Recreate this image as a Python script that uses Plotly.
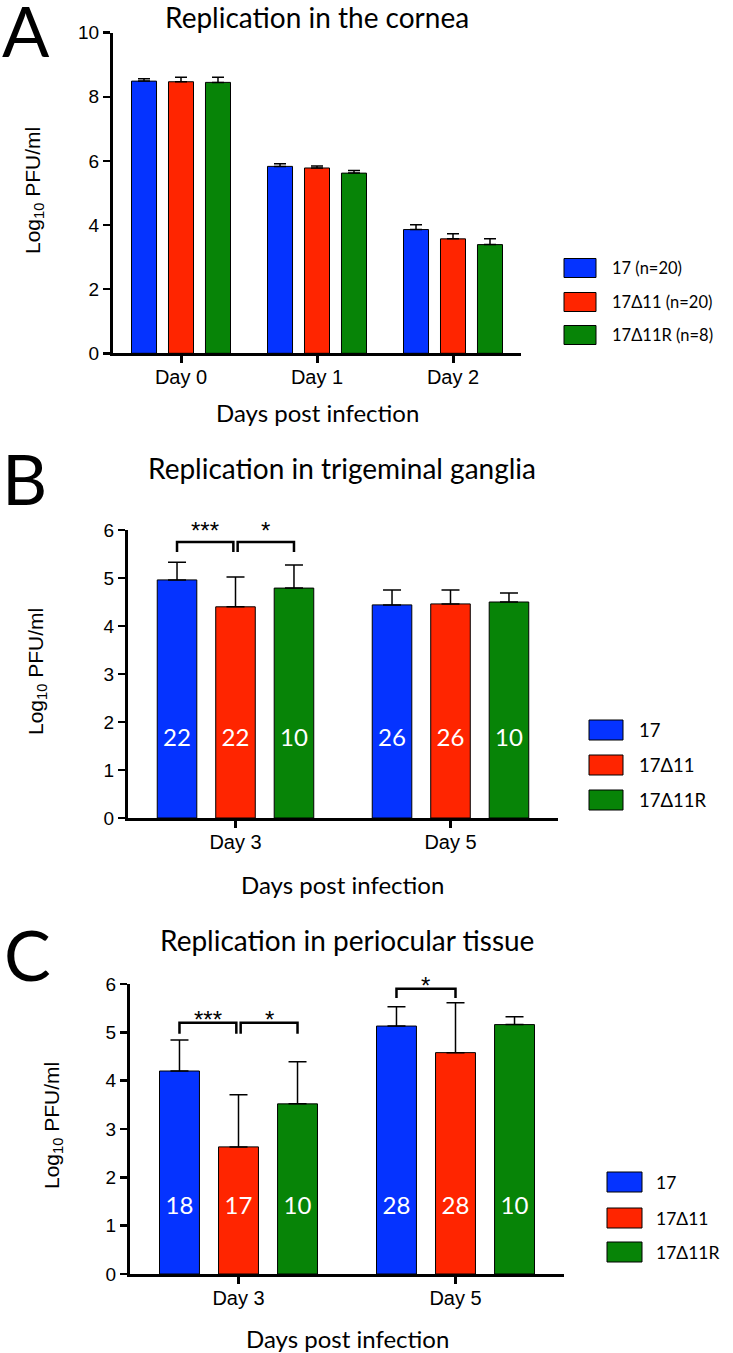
import plotly.graph_objects as go

# ---------------- DATA ----------------
series_names_A = ["17 (n=20)", "17\u039411 (n=20)", "17\u039411R (n=8)"]
series_names_BC = ["17", "17\u039411", "17\u039411R"]

days_A = ["Day 0", "Day 1", "Day 2"]
A_17 = [8.49, 5.83, 3.86]
A_17_err = [0.07, 0.08, 0.15]
A_d11 = [8.47, 5.78, 3.57]
A_d11_err = [0.14, 0.06, 0.16]
A_d11R = [8.45, 5.62, 3.39]
A_d11R_err = [0.16, 0.08, 0.18]

days_B = ["Day 3", "Day 5"]
B_17 = [4.96, 4.44]
B_17_err = [0.37, 0.31]
B_d11 = [4.40, 4.46]
B_d11_err = [0.62, 0.29]
B_d11R = [4.79, 4.50]
B_d11R_err = [0.48, 0.19]
B_n = [[22, 26], [22, 26], [10, 10]]

days_C = ["Day 3", "Day 5"]
C_17 = [4.20, 5.13]
C_17_err = [0.64, 0.40]
C_d11 = [2.63, 4.58]
C_d11_err = [1.08, 1.03]
C_d11R = [3.52, 5.16]
C_d11R_err = [0.87, 0.16]
C_n = [[18, 28], [17, 28], [10, 10]]

# significance comparisons: (day index, series a, series b, label)
B_sig = [(0, 0, 1, "***"), (0, 1, 2, "*")]
C_sig = [(0, 0, 1, "***"), (0, 1, 2, "*"), (1, 0, 1, "*")]

titles = ["Replication in the cornea", "Replication in trigeminal ganglia",
          "Replication in periocular tissue"]
panel_letters = ["A", "B", "C"]
x_title = "Days post infection"
y_title = "Log<sub>10</sub> PFU/ml"

# ---------------- STYLE ----------------
W, H = 733, 1353
colors = ["#0533FF", "#FF2500", "#078407"]
TXT = "Lato"
TICKF = "Liberation Sans"
OFF = 0.272
BW = 0.184


def px(x):
    return x / W


def py(y):
    return 1 - y / H


panels = [
    dict(days=days_A, vals=[A_17, A_d11, A_d11R], errs=[A_17_err, A_d11_err, A_d11R_err],
         counts=None, sig=[], xd=(113, 521), yd=(353.3, 32.7), yr=10, dtick=2, errw=6,
         names=series_names_A, title_xy=(317, 17), letter_xy=(0, 30), xt_xy=(317, 413),
         yt_xy=(34, 191), leg_x=564, leg_ys=[268, 302, 335], leg_w=32, leg_h=19, leg_fs=16.5,
         leg_gap=14, count_y=None, sig_y=[], star_shift=0),
    dict(days=days_B, vals=[B_17, B_d11, B_d11R], errs=[B_17_err, B_d11_err, B_d11R_err],
         counts=B_n, sig=B_sig, xd=(128, 558), yd=(818, 530), yr=6, dtick=1, errw=9,
         names=series_names_BC, title_xy=(342, 468), letter_xy=(0, 478), xt_xy=(342, 884),
         yt_xy=(37, 672), leg_x=589, leg_ys=[730, 765, 800], leg_w=34, leg_h=20, leg_fs=18.5,
         leg_gap=14, count_y=1.62, sig_y=[(5.75, 5.54), (5.75, 5.54)], star_shift=-4),
    dict(days=days_C, vals=[C_17, C_d11, C_d11R], errs=[C_17_err, C_d11_err, C_d11R_err],
         counts=C_n, sig=C_sig, xd=(130, 564), yd=(1274, 984), yr=6, dtick=1, errw=9,
         names=series_names_BC, title_xy=(347, 940), letter_xy=(2, 954), xt_xy=(347, 1338),
         yt_xy=(53, 1126), leg_x=607, leg_ys=[1182, 1218, 1252], leg_w=35, leg_h=20, leg_fs=17.5,
         leg_gap=12, count_y=1.37, sig_y=[(5.2, 4.97), (5.2, 4.97), (5.9, 5.71)], star_shift=-12),
]

fig = go.Figure()
layout = dict(template="none", width=W, height=H,
              margin=dict(l=0, r=0, t=0, b=0, pad=0, autoexpand=False),
              paper_bgcolor="white", plot_bgcolor="white", showlegend=False,
              barmode="overlay")
shapes = []
annotations = []

for k, p in enumerate(panels):
    sfx = "" if k == 0 else str(k + 1)
    xa, ya = "x" + sfx, "y" + sfx
    n = len(p["days"])
    idx = list(range(n))
    for s in range(3):
        xs = [i + (s - 1) * OFF for i in idx]
        fig.add_trace(go.Bar(
            x=xs, y=p["vals"][s], width=BW, xaxis=xa, yaxis=ya,
            marker=dict(color=colors[s], line=dict(color="black", width=1)),
            error_y=dict(type="data", array=p["errs"][s], arrayminus=[0] * n, symmetric=False,
                         color="black", thickness=1.5, width=p["errw"]),
            name=p["names"][s], hoverinfo="skip"))
        if p["counts"]:
            fig.add_trace(go.Scatter(
                x=xs, y=[p["count_y"]] * n, mode="text", text=[str(c) for c in p["counts"][s]],
                textfont=dict(family=TXT, size=24, color="white"), xaxis=xa, yaxis=ya,
                hoverinfo="skip"))
    # significance brackets
    for j, (d, a, b, lab) in enumerate(p["sig"]):
        ytop, yleg = p["sig_y"][j]
        x1 = d + (a - 1) * OFF
        x2 = d + (b - 1) * OFF
        if b == 1 and any(q[0] == d and q[1] == 1 for q in p["sig"]):
            x2 -= 0.01
        if a == 1:
            x1 += 0.01
        shapes.append(dict(type="path", xref=xa, yref=ya,
                           path=f"M {x1},{yleg} L {x1},{ytop} L {x2},{ytop} L {x2},{yleg}",
                           line=dict(color="black", width=2.5)))
        annotations.append(dict(x=(x1 + x2) / 2, y=ytop, xref=xa, yref=ya, text=lab,
                                showarrow=False, yanchor="bottom", yshift=p["star_shift"],
                                font=dict(family=TICKF, size=24, color="black")))
    axis_common = dict(showline=True, linecolor="black", linewidth=3, ticks="outside",
                       tickcolor="black", showgrid=False, zeroline=False, automargin=False)
    layout["xaxis" + sfx] = dict(axis_common, domain=[px(p["xd"][0]), px(p["xd"][1])],
                                 range=[-0.5, n - 0.5], tickvals=idx, ticktext=p["days"],
                                 ticklen=7, tickwidth=3, anchor=ya, ticklabelstandoff=-3,
                                 tickfont=dict(family=TICKF, size=20, color="black"))
    layout["yaxis" + sfx] = dict(axis_common, domain=[py(p["yd"][0]), py(p["yd"][1])],
                                 range=[0, p["yr"]], dtick=p["dtick"], tick0=0,
                                 ticklen=7, tickwidth=2.5, anchor=xa,
                                 tickfont=dict(family=TICKF, size=19, color="black"))
    # titles and labels
    annotations.append(dict(x=px(p["title_xy"][0]), y=py(p["title_xy"][1]), xref="paper",
                            yref="paper", text=titles[k], showarrow=False,
                            font=dict(family=TXT, size=28, color="black"),
                            xanchor="center", yanchor="middle"))
    annotations.append(dict(x=px(p["letter_xy"][0]), y=py(p["letter_xy"][1]), xref="paper",
                            yref="paper", text=panel_letters[k], showarrow=False,
                            font=dict(family=TXT, size=70, color="black"),
                            xanchor="left", yanchor="middle"))
    annotations.append(dict(x=px(p["xt_xy"][0]), y=py(p["xt_xy"][1]), xref="paper",
                            yref="paper", text=x_title, showarrow=False,
                            font=dict(family=TXT, size=24, color="black"),
                            xanchor="center", yanchor="middle"))
    annotations.append(dict(x=px(p["yt_xy"][0]), y=py(p["yt_xy"][1]), xref="paper",
                            yref="paper", text=y_title, showarrow=False, textangle=-90,
                            font=dict(family=TICKF, size=21, color="black"),
                            xanchor="center", yanchor="middle"))
    # legend
    for s in range(3):
        cy = p["leg_ys"][s]
        shapes.append(dict(type="rect", xref="paper", yref="paper",
                           x0=px(p["leg_x"]), x1=px(p["leg_x"] + p["leg_w"]),
                           y0=py(cy + p["leg_h"] / 2), y1=py(cy - p["leg_h"] / 2),
                           fillcolor=colors[s], line=dict(color="black", width=1)))
        annotations.append(dict(x=px(p["leg_x"] + p["leg_w"] + p["leg_gap"]), y=py(cy),
                                xref="paper", yref="paper", text=p["names"][s], showarrow=False,
                                font=dict(family=TXT, size=p["leg_fs"], color="black"),
                                xanchor="left", yanchor="middle"))

layout["shapes"] = shapes
layout["annotations"] = annotations
fig.update_layout(**layout)
fig.write_html("out.html", config={"displayModeBar": False, "staticPlot": True},
               post_script="document.body.style.margin='0';document.body.style.padding='0';")
